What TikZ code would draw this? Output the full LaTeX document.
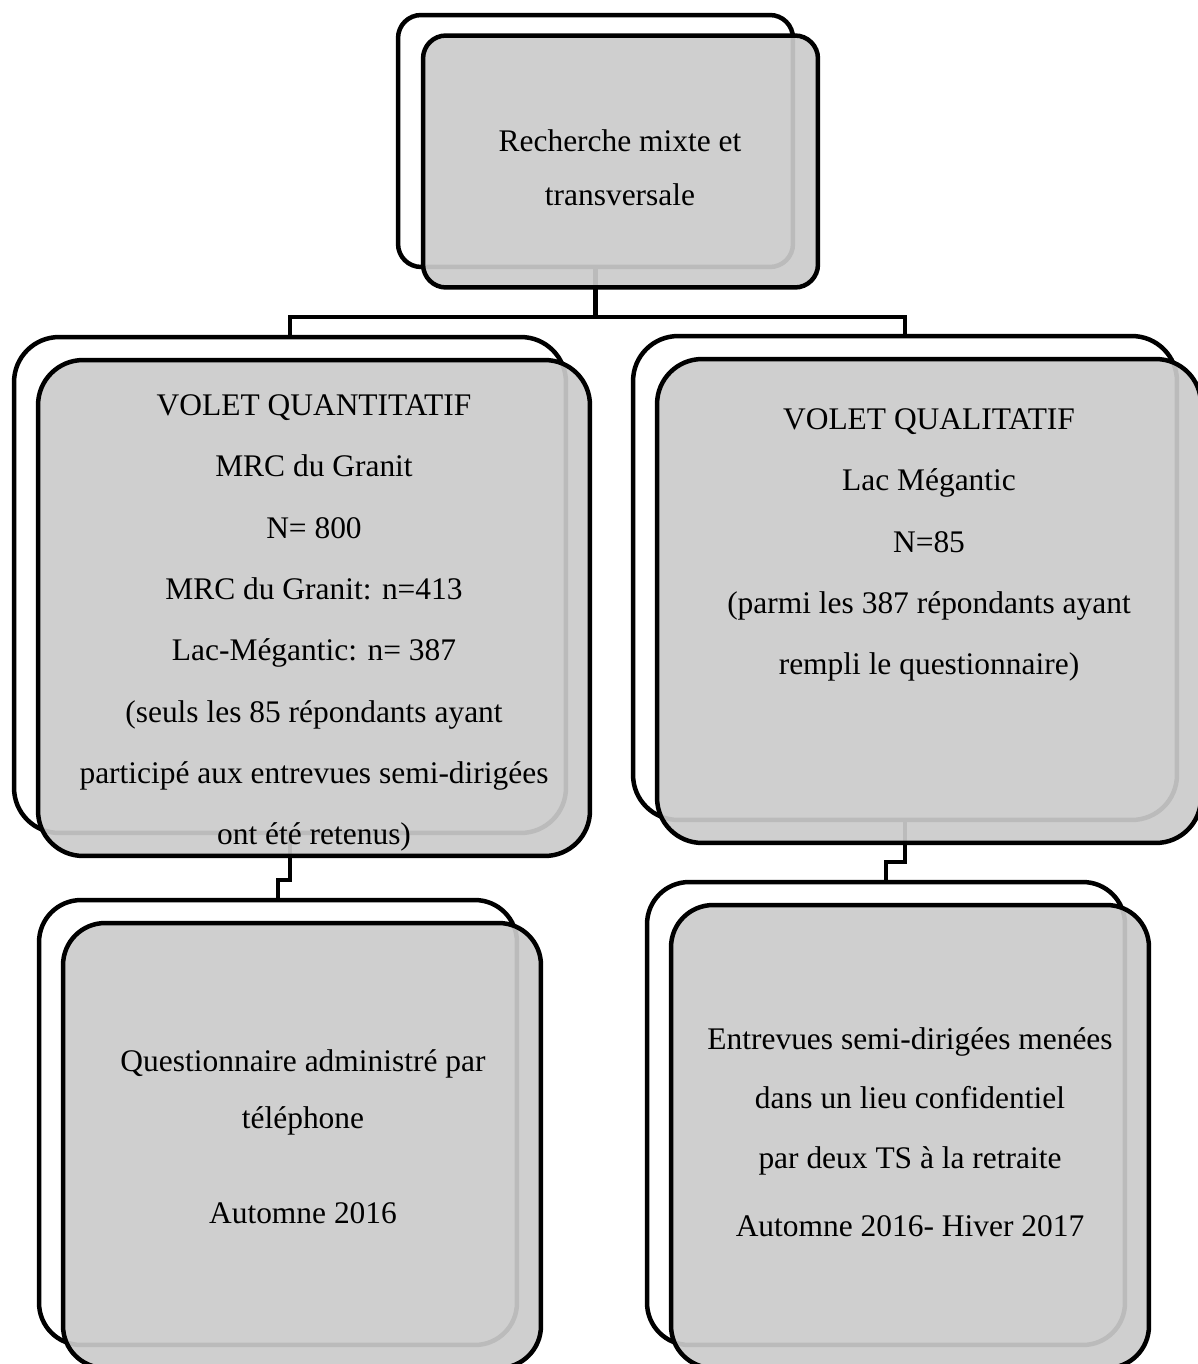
\documentclass[tikz,border=0pt]{standalone}
\usepackage{fontspec}
\setmainfont{Liberation Serif}
\usepackage{tikz}
\usetikzlibrary{positioning}

\definecolor{cardgray}{RGB}{203,203,203}

\tikzset{
  backcard/.style={draw, line width=0.09cm, fill=white, inner sep=0pt, outer sep=0pt},
  frontcard/.style={backcard, fill=cardgray, fill opacity=0.92},
  link/.style={line width=0.09cm},
  cardtext/.style={align=center, inner sep=0pt, font=\fontsize{17.9pt}{#1}\selectfont}
}

\begin{document}
\begin{tikzpicture}[x=0.02cm, y=-0.02cm]
        \fill[white] (0,0) rectangle (1197,1364);
        \useasboundingbox (0,0) rectangle (1197,1364);

        \node[backcard, rounded corners=0.46cm, minimum width=7.9cm, minimum height=5.04cm] (topB) at (595.5,141) {};
        \node[backcard, rounded corners=0.9cm, minimum width=11.04cm, minimum height=9.92cm] (quantB) at (290,585) {};
        \node[backcard, rounded corners=0.9cm, minimum width=10.88cm, minimum height=9.68cm] (qualB) at (905,578) {};
        \node[backcard, rounded corners=0.84cm, minimum width=9.56cm, minimum height=8.9cm] (phoneB) at (278,1122.5) {};
        \node[backcard, rounded corners=0.84cm, minimum width=9.56cm, minimum height=9.26cm] (interB) at (886,1113.5) {};

        \draw[link] (topB.south) -- ++(0,50) -| (quantB.north);
        \draw[link] (topB.south) ++(0,50) -| (qualB.north);
        \draw[link] (quantB.south) -- ++(0,47) -| (phoneB.north);
        \draw[link] (qualB.south) -- ++(0,42) -| (interB.north);

        \node[frontcard, rounded corners=0.46cm, minimum width=7.9cm, minimum height=5.04cm] (topF) at (620.5,161.5) {};
        \node[frontcard, rounded corners=0.9cm, minimum width=11.04cm, minimum height=9.92cm] (quantF) at (314,608) {};
        \node[frontcard, rounded corners=0.9cm, minimum width=10.88cm, minimum height=9.68cm] (qualF) at (929,601) {};
        \node[frontcard, rounded corners=0.84cm, minimum width=9.56cm, minimum height=8.9cm] (phoneF) at (302,1145.5) {};
        \node[frontcard, rounded corners=0.84cm, minimum width=9.56cm, minimum height=9.26cm] (interF) at (910,1136.5) {};

        \node[cardtext=30.6pt] (topT) at (620,168) {Recherche mixte et\\transversale};
        \node[cardtext=34.9pt] (quantT) at (314,623) {VOLET QUANTITATIF\\MRC du Granit\\N= 800\\MRC du Granit: n=413\\Lac-Mégantic: n= 387\\(seuls les 85 répondants ayant\\participé aux entrevues semi-dirigées\\ont été retenus)};
        \node[cardtext=34.9pt] (qualT) at (929,545) {VOLET QUALITATIF\\Lac Mégantic\\N=85\\(parmi les 387 répondants ayant\\rempli le questionnaire)};
        \node[cardtext=32.3pt] (phoneT) at (303,1137) {Questionnaire administré par\\téléphone\\[22pt]Automne 2016};
        \node[cardtext=34pt] (interT) at (910,1132) {Entrevues semi-dirigées menées\\dans un lieu confidentiel\\ par deux TS à la retraite\\[4.5pt]Automne 2016- Hiver 2017};
    \end{tikzpicture}
\end{document}
